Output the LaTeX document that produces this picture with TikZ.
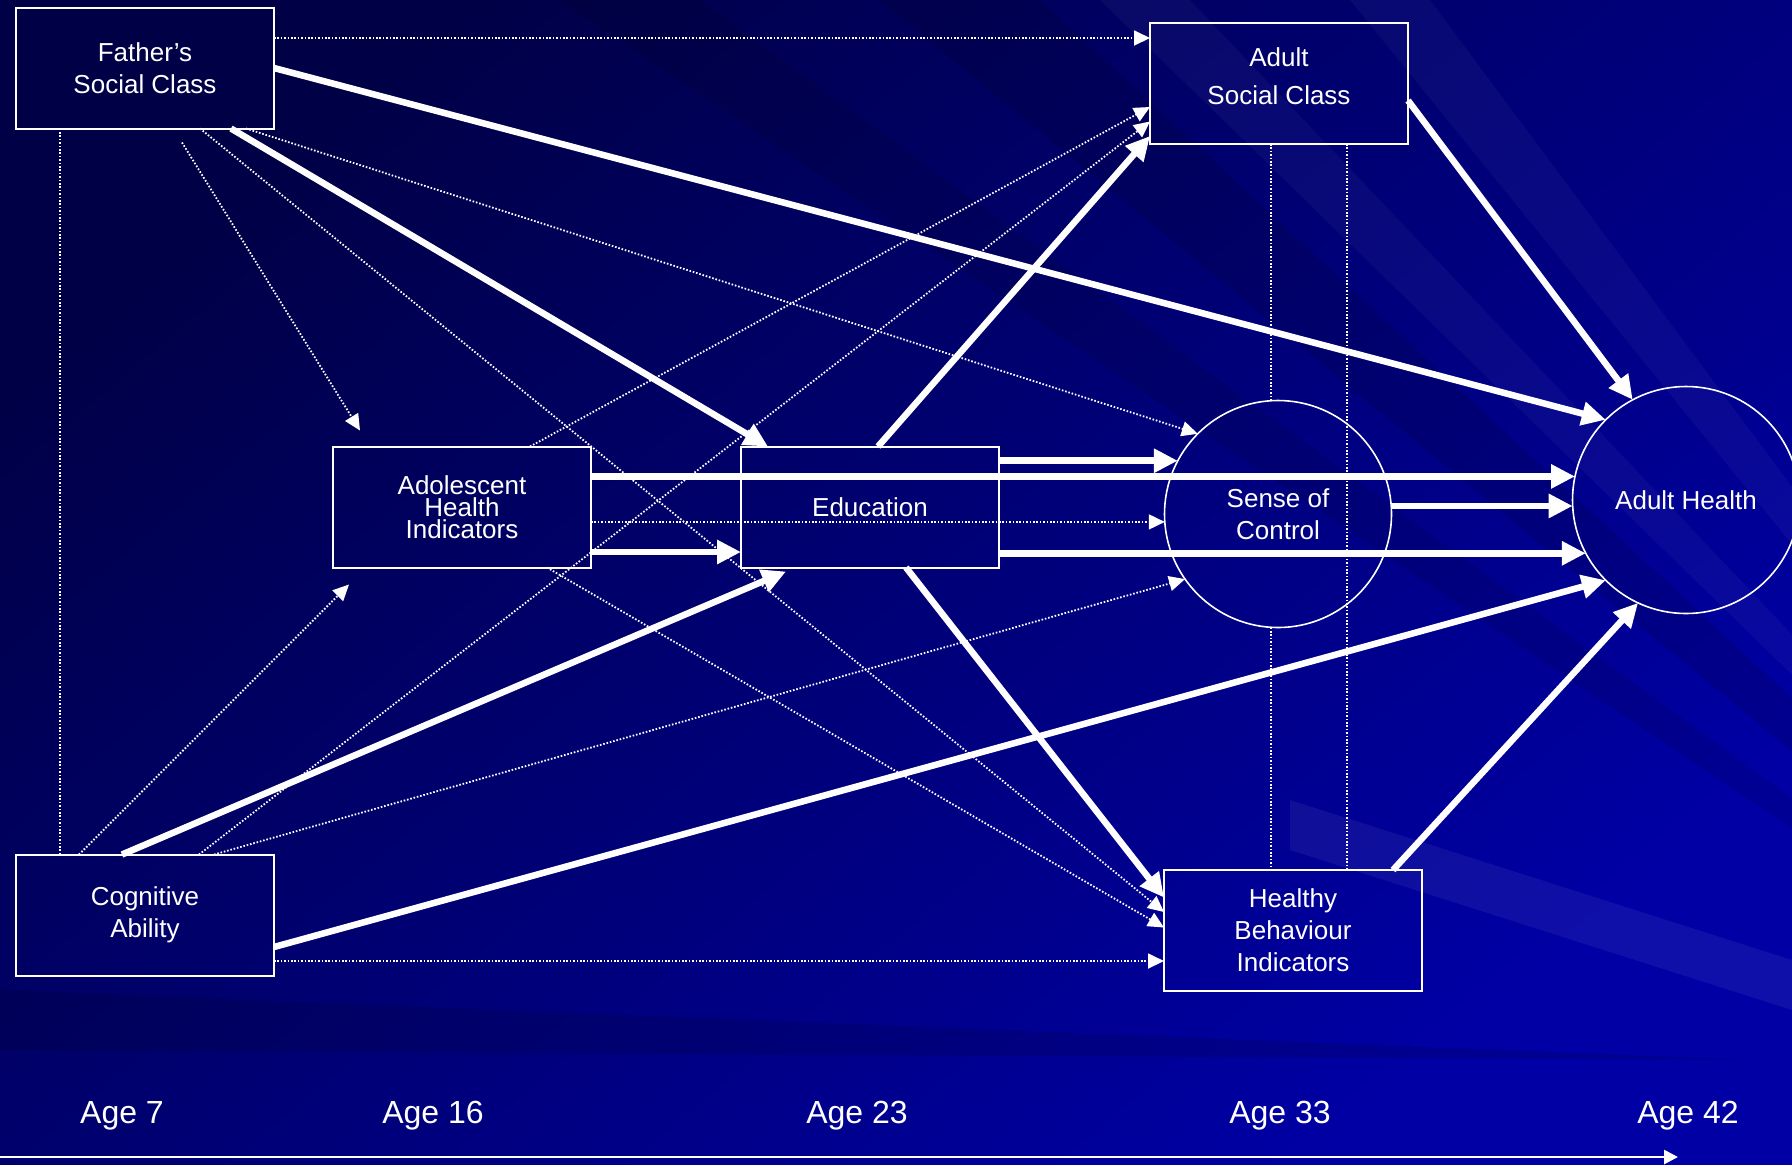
\documentclass[tikz,border=0pt]{standalone}
\usepackage{fontspec}
\setmainfont{Liberation Sans}
\usepackage{tikz}
\usetikzlibrary{positioning,arrows.meta,calc}
\definecolor{bgdark}{RGB}{0,0,70}
\definecolor{bgmid}{RGB}{0,0,128}
\definecolor{bglight}{RGB}{0,0,165}

\begin{document}
\begin{tikzpicture}[
    x=0.5pt, y=-0.5pt,
    font=\fontsize{13}{16}\selectfont,
    every node/.style={text=white},
    box/.style={rectangle, draw=white, line width=1pt, outer sep=0pt,
      minimum width=129pt, minimum height=60.5pt, align=center},
    latent/.style={circle, draw=white, line width=0.8pt, outer sep=0pt,
      minimum size=113.5pt, align=center},
    strong/.style={white, line width=3.25pt, -{Triangle[length=12pt,width=11.5pt]}},
    weak/.style={white, line width=0.9pt, dash pattern=on 0.8pt off 0.9pt,
      -{Triangle[length=8pt,width=7.5pt]}},
    link/.style={white, line width=0.9pt, dash pattern=on 0.8pt off 0.9pt},
    age/.style={font=\fontsize{16}{19}\selectfont, anchor=base}
  ]
    % background
    \useasboundingbox (0,0) rectangle (1792,1164);
    \shade[top color=bgdark, bottom color=bglight, shading angle=40] (0,0) rectangle (1792,1164);
    \fill[white, opacity=0.035] (2300,1170) -- (1100,0) -- (1190,0) -- cycle;
    \fill[white, opacity=0.035] (2300,1170) -- (1350,0) -- (1430,0) -- cycle;
    \fill[black, opacity=0.12] (2300,1170) -- (880,0) -- (1040,0) -- cycle;
    \fill[black, opacity=0.10] (2300,1170) -- (560,0) -- (700,0) -- cycle;
    \fill[white, opacity=0.06] (1290,800) -- (1290,850) -- (1792,1010) -- (1792,960) -- cycle;
    \fill[black, opacity=0.12] (0,990) -- (0,1050) -- (1750,1060) -- cycle;

    % nodes
    \node[box] (fathers) at (145,68) {Father’s\\Social Class};
    \node[box, font=\fontsize{13}{19}\selectfont, text depth=7pt] (adultsc) at (1279,83.5) {Adult\\Social Class};
    \node[box, font=\fontsize{13}{11}\selectfont] (adolescent) at (462,507) {Adolescent\\Health\\Indicators};
    \node[box] (education) at (870,507) {Education};
    \node[latent] (control) at (1278,514) {Sense of\\Control};
    \node[latent] (health) at (1686,500) {Adult Health};
    \node[box] (cognitive) at (145,915) {Cognitive\\Ability};
    \node[box] (healthy) at (1293,930.5) {Healthy\\Behaviour\\Indicators};

    % correlations
    \draw[link] ($(fathers.south west)+(44,0)$) -- ($(cognitive.north west)+(44,0)$);
    \draw[link] ($(adultsc.south)+(-8,0)$) -- ($(control.north)+(-7,0)$);
    \draw[link] ($(control.south)+(-7,0)$) -- ($(healthy.north)+(-22,0)$);
    \draw[link] ($(adultsc.south)+(68,0)$) -- ($(healthy.north)+(54,0)$);

    % weak paths
    \draw[weak] ($(fathers.east)+(0,-30)$) -- ($(adultsc.west)+(0,-45.5)$);
    \draw[weak] ($(fathers.south)+(37,14)$) -- ($(adolescent.north west)+(27,-16)$);
    \draw[weak] ($(fathers.south east)+(-28,0)$) -- (control.135);
    \draw[weak] ($(fathers.south east)+(-74,0)$) -- ($(healthy.west)+(0,-18.5)$);
    \draw[weak] ($(adolescent.north)+(68,0)$) -- ($(adultsc.west)+(0,23.5)$);
    \draw[weak] (adolescent.east |- control.184) -- (control.184);
    \draw[weak] ($(adolescent.south east)+(-44,0)$) -- ($(healthy.west)+(0,-3)$);
    \draw[weak] ($(cognitive.north west)+(63,0)$) -- ($(adolescent.south west)+(16,17)$);
    \draw[weak] ($(cognitive.north east)+(-75,0)$) -- ($(adultsc.west)+(0,38)$);
    \draw[weak] ($(cognitive.north east)+(-60,0)$) -- (control.215);
    \draw[weak] ($(cognitive.east)+(0,46)$) -- ($(healthy.west)+(0,30.5)$);

    % strong paths
    \draw[strong] (fathers.east) -- (health.135);
    \draw[strong] ($(fathers.south east)+(-43,0)$) -- ($(education.north west)+(27,0)$);
    \draw[strong] ($(education.north)+(8,0)$) -- ($(adultsc.south west)+(0,-8)$);
    \draw[strong] ($(adultsc.east)+(0,17)$) -- (health.118);
    \draw[strong] (adolescent.east |- health.168) -- (health.168);
    \draw[strong] ($(adolescent.east)+(0,45)$) -- ($(education.west)+(0,45)$);
    \draw[strong] (education.east |- control.152) -- (control.152);
    \draw[strong] (education.east |- health.208) -- (health.208);
    \draw[strong] (health.183 -| control.east) -- (health.183);
    \draw[strong] ($(cognitive.north)+(-23,0)$) -- ($(education.south west)+(45,4)$);
    \draw[strong] ($(cognitive.east)+(0,32)$) -- (health.225);
    \draw[strong] ($(education.south)+(36,0)$) -- ($(healthy.west)+(0,-33)$);
    \draw[strong] ($(healthy.north)+(100,0)$) -- (health.245);

    % time axis
    \coordinate (axisL) at (0,1157);
    \coordinate (axisR) at (1678,1157);
    \draw[white, line width=1.3pt, -{Triangle[length=7pt,width=7pt]}] (axisL) -- (axisR);
    \node[age] (age7) at (122,1123) {Age 7};
    \node[age] (age16) at (433,1123) {Age 16};
    \node[age] (age23) at (857,1123) {Age 23};
    \node[age] (age33) at (1280,1123) {Age 33};
    \node[age] (age42) at (1688,1123) {Age 42};
  \end{tikzpicture}
\end{document}
